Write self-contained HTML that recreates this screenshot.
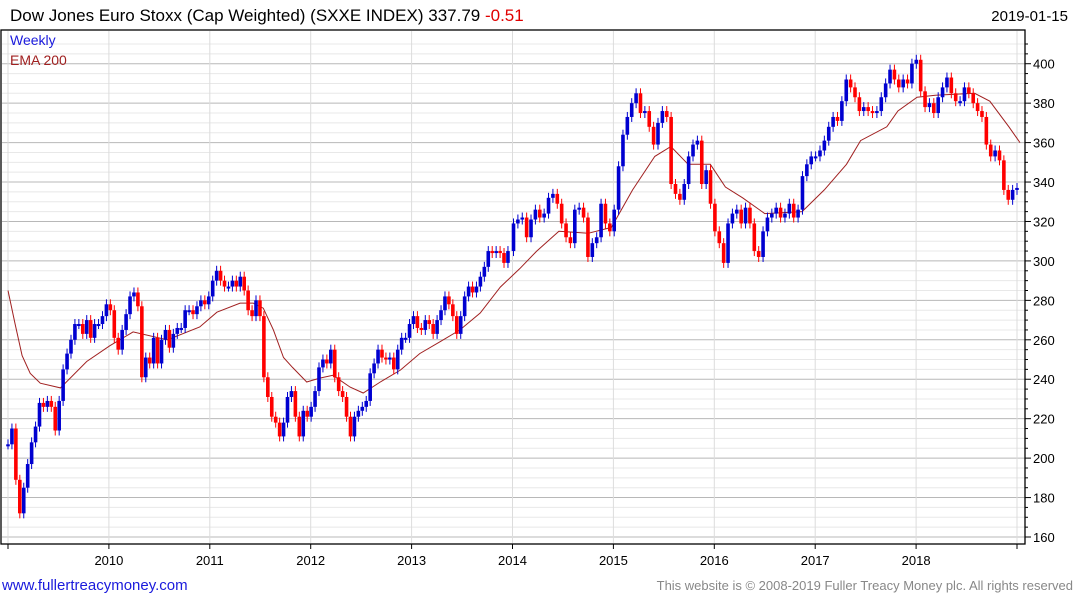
<!DOCTYPE html>
<html><head><meta charset="utf-8"><style>
body{margin:0;background:#fff;width:1075px;height:600px;overflow:hidden;font-family:"Liberation Sans",sans-serif}
svg{display:block}
</style></head><body>
<svg id="chart" width="1075" height="600" xmlns="http://www.w3.org/2000/svg">
<text x="10" y="21" font-size="17" fill="#000">Dow Jones Euro Stoxx (Cap Weighted)  (SXXE INDEX) 337.79 <tspan fill="#e00000">-0.51</tspan></text>
<text x="1068" y="21" font-size="15" fill="#000" text-anchor="end">2019-01-15</text>
<g id="grid"></g><g id="ema"></g><g id="bars"></g><g id="axes"></g>
<rect x="1" y="30" width="1024" height="514" fill="none" stroke="#000" stroke-width="1.3"/>
<text x="10" y="45" font-size="14" fill="#1a1adc">Weekly</text>
<text x="10" y="65" font-size="14" fill="#a02020">EMA 200</text>
<text x="2" y="590" font-size="15" fill="#1a1adc">www.fullertreacymoney.com</text>
<text x="1073" y="590" font-size="13" fill="#888" text-anchor="end">This website is © 2008-2019 Fuller Treacy Money plc. All rights reserved</text>
</svg>
<script>
const closesA=[207,215,189,172,185,197,208,216,228,226,229,226,214,229,245,253,260,268,268,263,270,261,268,268,272,278,
275,261,255,265,273,282,284,277,241,251,248,261,248,260,265,256,263,266,266,275,275,273,277,280,278,
282,290,295,290,287,287,290,287,292,285,275,272,280,272,241,231,221,218,211,218,231,234,221,211,224,221,
226,234,246,250,248,255,241,234,231,221,211,221,224,226,229,243,248,255,251,250,251,245,255,261,261,268,
272,266,265,270,268,263,270,275,282,278,272,263,272,282,287,284,287,292,297,305,304,305,304,299,305];
const closesB=[319,321,322,312,321,326,322,324,332,334,329,319,312,309,326,327,322,302,309,312,329,319,315,326,348,
364,373,380,385,375,376,368,359,370,376,373,339,334,331,339,353,359,361,339,346,329,315,309,299,319,324,
326,319,327,319,305,302,315,322,324,327,322,324,329,322,326,343,349,353,353,356,361,368,373,371,381,
392,388,383,376,378,376,375,376,383,390,397,392,388,392,390,400,402,386,378,380,375,383,388,393,385,
381,381,388,385,380,376,373,359,353,356,351,336,331,336,337];
const rangeA=[2009.0,2013.955];
const rangeB=[2014.01,2019.0];
const emaYears=[2009.00,2009.07,2009.14,2009.22,2009.32,2009.52,2009.78,2010.01,2010.24,2010.58,2010.90,2011.07,2011.30,2011.43,2011.53,2011.63,2011.73,2011.82,2011.96,2012.09,2012.22,2012.39,2012.52,2012.69,2012.89,2013.08,2013.28,2013.48,2013.68,2013.88,2014.07,2014.24,2014.46,2014.75,2014.98,2015.19,2015.41,2015.57,2015.74,2015.96,2016.11,2016.28,2016.50,2016.87,2017.09,2017.31,2017.45,2017.71,2017.82,2018.01,2018.19,2018.58,2018.73,2018.92,2019.03];
const emaValues=[285,268,252,243,238,235.6,249,257,264,260,266.5,274,278.6,278.6,276,265,251,246,238.6,240.6,242,236,233,238.6,244.7,253,259,265,273.6,286.8,296,305,315,314,317,336,353,358,349,349,337.5,332,324,325,336,349,361,368,376,383,384,385,381,368,360];
const yearLabels=[2010,2011,2012,2013,2014,2015,2016,2017,2018];
const yTicks=[160,180,200,220,240,260,280,300,320,340,360,380,400];

const NS="http://www.w3.org/2000/svg";
function X(t){return 8+(t-2009)*100.9;}
function Y(v){return 537-(v-160)*1.972;}
function mk(tag,attrs,parent){const e=document.createElementNS(NS,tag);for(const k in attrs)e.setAttribute(k,attrs[k]);parent.appendChild(e);return e;}
const grid=document.getElementById('grid'),axes=document.getElementById('axes'),bars=document.getElementById('bars'),emaG=document.getElementById('ema');
for(let v=155;v<=410;v+=5){const y=Y(v);if(y<31||y>543)continue;
 const l=mk('line',{x1:2,x2:1025,y1:y,y2:y,stroke:v%20===0?'#b8b8b8':'#e8e8e8','stroke-width':1},grid);
 
 
 const tk=mk('line',{x1:1025,x2:v%20===0?1031:1028,y1:y,y2:y,stroke:'#000'},axes);
 
 
}
yTicks.forEach(v=>{const t=mk('text',{x:1033,y:Y(v)+5,'font-size':13,fill:'#000'},axes);t.textContent=v;
 
 });
for(let yr=2009;yr<=2019;yr++){const x=X(yr);
 const g=mk('line',{x1:x,x2:x,y1:31,y2:543,stroke:'#dcdcdc'},grid);
 
 
 const tk=mk('line',{x1:x,x2:x,y1:544,y2:549,stroke:'#000'},axes);
 
 }
yearLabels.forEach(yr=>{const t=mk('text',{x:X(yr),y:565,'font-size':13,'text-anchor':'middle',fill:'#000'},axes);t.textContent=yr;
 
 });
let d='';emaYears.forEach((t,i)=>{d+=(i?'L':'M')+X(t).toFixed(1)+' '+Y(emaValues[i]).toFixed(1);});
const ep=mk('path',{d:d,fill:'none',stroke:'#a02020','stroke-width':1},emaG);


function drawSeg(arr,range,prev0){let prev=prev0;const n=arr.length;
 arr.forEach((c,i)=>{const t=range[0]+(range[1]-range[0])*i/(n-1);const x=X(t);
  const o=prev==null?c:prev;const up=c>=o;const y1=Y(Math.max(o,c)),y2=Y(Math.min(o,c));
  const wk=mk('line',{x1:x,x2:x,y1:y1-5,y2:y2+5,stroke:up?'#0000d0':'#ff0000','stroke-width':1},bars);
  
  
  const r=mk('rect',{x:x-1.8,y:y1,width:3.6,height:Math.max(2,y2-y1),fill:up?'#0000d0':'#ff0000'},bars);
  
  
  prev=c;});return prev;}
const last=drawSeg(closesA,rangeA,null);drawSeg(closesB,rangeB,last);
</script>
</body></html>
